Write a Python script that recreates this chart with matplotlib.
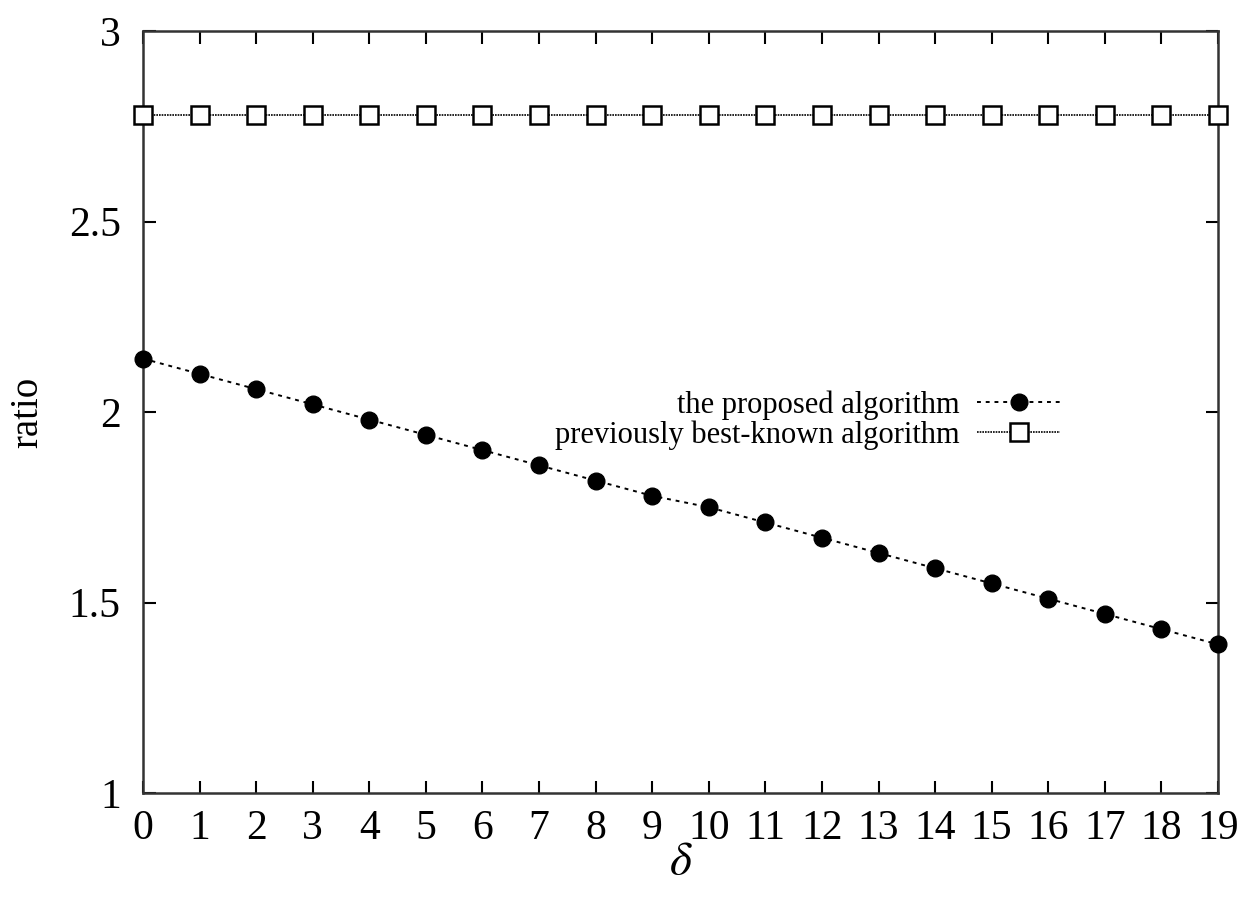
import numpy as np
import matplotlib.pyplot as plt

plt.rcParams['font.family'] = ['Liberation Serif', 'DejaVu Serif']
plt.rcParams['mathtext.fontset'] = 'stix'

delta = np.arange(0, 20)
proposed = [2.14, 2.10, 2.06, 2.02, 1.98, 1.94, 1.90, 1.86, 1.82, 1.78,
            1.75, 1.71, 1.67, 1.63, 1.59, 1.55, 1.51, 1.47, 1.43, 1.39]
previous = [2.78] * 20

fig = plt.figure(figsize=(12.49, 9.01), dpi=100)
ax = fig.add_axes([143 / 1249, 1 - 793 / 901, (1218 - 143) / 1249, (793 - 31) / 901])

ax.plot(delta, proposed, ls=(0, (2, 2.5)), lw=1.4, c='k', marker='o', ms=12,
        label='the proposed algorithm', clip_on=False, zorder=3)
ax.plot(delta, previous, ls=(0, (1, 0.6)), lw=1.2, c='k', marker='s', ms=13,
        mfc='white', mew=1.8, label='previously best-known algorithm',
        clip_on=False, zorder=3)

ax.set_xlim(0, 19)
ax.set_ylim(1, 3)
ax.set_xticks(delta)
ax.set_yticks([1, 1.5, 2, 2.5, 3])
ax.set_yticklabels(['1', '1.5', '2', '2.5', '3'])
ax.tick_params(direction='in', top=True, right=True, length=9, width=1.5,
               labelsize=30)
ax.tick_params(axis='x', pad=12)
ax.tick_params(axis='y', pad=16)
for s in ax.spines.values():
    s.set_linewidth(1.8)
    s.set_color('#333333')

ax.set_xlabel(r'$\delta$', fontsize=34, labelpad=-5)
ax.set_ylabel('ratio', fontsize=28, labelpad=16)

leg = ax.legend(loc='upper right', bbox_to_anchor=(0.853, 0.528), frameon=False,
                fontsize=22, markerfirst=False, handlelength=2.7, borderpad=0,
                handletextpad=0.6, labelspacing=0.0, borderaxespad=0)
for t in leg.get_texts():
    t.set_ha('right')
leg._legend_box.align = 'right'

fig.savefig('out.png', dpi=100)
